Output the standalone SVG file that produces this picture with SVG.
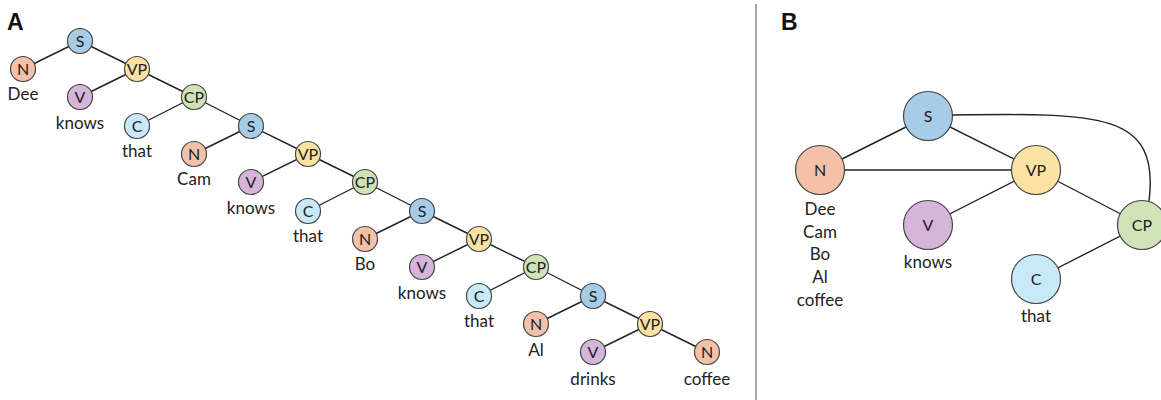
<svg xmlns="http://www.w3.org/2000/svg" width="1161" height="400" viewBox="0 0 1161 400">
<style>
.e{stroke:#222;stroke-width:1.4;fill:none}
.n circle{stroke:#444;stroke-width:1.2}
.t{font-family:Lato,"Open Sans",sans-serif;font-size:16px;fill:#222;text-anchor:middle}
.l{font-family:Lato,"Open Sans",sans-serif;font-size:17px;fill:#222;text-anchor:middle}
.h{font-family:"Liberation Sans",Arial,sans-serif;font-size:23px;font-weight:bold;fill:#111}
.cN{fill:#F3C1A8}.cS{fill:#A6CCE7}.cVP{fill:#FBE2A3}.cV{fill:#D5B5D9}.cCP{fill:#CFE3B6}.cC{fill:#C8E9F8}
</style>
<rect width="1161" height="400" fill="#fff"/>
<text class="h" x="7" y="30">A</text>
<text class="h" x="781" y="30">B</text>
<line x1="756" y1="4" x2="756" y2="400" stroke="#888" stroke-width="1.5"/>
<g id="connectors">
<path class="e" d="M80 41 L23 69 M80 41 L137 69 M137 69 L80 97 M137 69 L194 97 M194 97 L137 126 M194 97 L251 126 M251 126 L194 154 M251 126 L308 154 M308 154 L251 182 M308 154 L365 182 M365 182 L308 211 M365 182 L422 211 M422 211 L365 239 M422 211 L479 239 M479 239 L422 267 M479 239 L536 267 M536 267 L479 296 M536 267 L593 296 M593 296 L536 324 M593 296 L650 324 M650 324 L593 352 M650 324 L707 352"/>
<path class="e" d="M928 116 L820 170 M928 116 L1036 170 M820 170 L1036 170 M1036 170 L928 225 M1036 170 L1142 225 M1142 225 L1036 279"/>
<path class="e" d="M952 115 C 1100 113, 1160 112, 1149 201"/>
</g>
<g id="A-S1" class="n"><circle class="cS" cx="80" cy="41" r="12.5"/><text class="t" x="80" y="47">S</text></g>
<g id="A-N1" class="n"><circle class="cN" cx="23" cy="69" r="12.5"/><text class="t" x="23" y="75">N</text><text class="l" x="23" y="100">Dee</text></g>
<g id="A-VP1" class="n"><circle class="cVP" cx="137" cy="69" r="12.5"/><text class="t" x="137" y="75">VP</text></g>
<g id="A-V1" class="n"><circle class="cV" cx="80" cy="97" r="12.5"/><text class="t" x="80" y="103">V</text><text class="l" x="80" y="129">knows</text></g>
<g id="A-CP1" class="n"><circle class="cCP" cx="194" cy="97" r="12.5"/><text class="t" x="194" y="103">CP</text></g>
<g id="A-C1" class="n"><circle class="cC" cx="137" cy="126" r="12.5"/><text class="t" x="137" y="132">C</text><text class="l" x="137" y="157">that</text></g>
<g id="A-S2" class="n"><circle class="cS" cx="251" cy="126" r="12.5"/><text class="t" x="251" y="132">S</text></g>
<g id="A-N2" class="n"><circle class="cN" cx="194" cy="154" r="12.5"/><text class="t" x="194" y="160">N</text><text class="l" x="194" y="185">Cam</text></g>
<g id="A-VP2" class="n"><circle class="cVP" cx="308" cy="154" r="12.5"/><text class="t" x="308" y="160">VP</text></g>
<g id="A-V2" class="n"><circle class="cV" cx="251" cy="182" r="12.5"/><text class="t" x="251" y="188">V</text><text class="l" x="251" y="214">knows</text></g>
<g id="A-CP2" class="n"><circle class="cCP" cx="365" cy="182" r="12.5"/><text class="t" x="365" y="188">CP</text></g>
<g id="A-C2" class="n"><circle class="cC" cx="308" cy="211" r="12.5"/><text class="t" x="308" y="217">C</text><text class="l" x="308" y="242">that</text></g>
<g id="A-S3" class="n"><circle class="cS" cx="422" cy="211" r="12.5"/><text class="t" x="422" y="217">S</text></g>
<g id="A-N3" class="n"><circle class="cN" cx="365" cy="239" r="12.5"/><text class="t" x="365" y="245">N</text><text class="l" x="365" y="270">Bo</text></g>
<g id="A-VP3" class="n"><circle class="cVP" cx="479" cy="239" r="12.5"/><text class="t" x="479" y="245">VP</text></g>
<g id="A-V3" class="n"><circle class="cV" cx="422" cy="267" r="12.5"/><text class="t" x="422" y="273">V</text><text class="l" x="422" y="299">knows</text></g>
<g id="A-CP3" class="n"><circle class="cCP" cx="536" cy="267" r="12.5"/><text class="t" x="536" y="273">CP</text></g>
<g id="A-C3" class="n"><circle class="cC" cx="479" cy="296" r="12.5"/><text class="t" x="479" y="302">C</text><text class="l" x="479" y="327">that</text></g>
<g id="A-S4" class="n"><circle class="cS" cx="593" cy="296" r="12.5"/><text class="t" x="593" y="302">S</text></g>
<g id="A-N4" class="n"><circle class="cN" cx="536" cy="324" r="12.5"/><text class="t" x="536" y="330">N</text><text class="l" x="536" y="356">Al</text></g>
<g id="A-VP4" class="n"><circle class="cVP" cx="650" cy="324" r="12.5"/><text class="t" x="650" y="330">VP</text></g>
<g id="A-V4" class="n"><circle class="cV" cx="593" cy="352" r="12.5"/><text class="t" x="593" y="358">V</text><text class="l" x="593" y="385">drinks</text></g>
<g id="A-N5" class="n"><circle class="cN" cx="707" cy="352" r="12.5"/><text class="t" x="707" y="358">N</text><text class="l" x="707" y="385">coffee</text></g>
<g id="B-S" class="n"><circle class="cS" cx="928" cy="116" r="24.5"/><text class="t" x="928" y="122">S</text></g>
<g id="B-N" class="n"><circle class="cN" cx="820" cy="170" r="24.5"/><text class="t" x="820" y="176">N</text>
<text class="l" x="820" y="215">Dee</text><text class="l" x="820" y="238">Cam</text><text class="l" x="820" y="260">Bo</text><text class="l" x="820" y="283">Al</text><text class="l" x="820" y="306">coffee</text></g>
<g id="B-VP" class="n"><circle class="cVP" cx="1036" cy="170" r="24.5"/><text class="t" x="1036" y="176">VP</text></g>
<g id="B-V" class="n"><circle class="cV" cx="928" cy="225" r="24.5"/><text class="t" x="928" y="231">V</text><text class="l" x="928" y="268">knows</text></g>
<g id="B-CP" class="n"><circle class="cCP" cx="1142" cy="225" r="24.5"/><text class="t" x="1142" y="231">CP</text></g>
<g id="B-C" class="n"><circle class="cC" cx="1036" cy="279" r="24.5"/><text class="t" x="1036" y="285">C</text><text class="l" x="1036" y="322">that</text></g>
</svg>
